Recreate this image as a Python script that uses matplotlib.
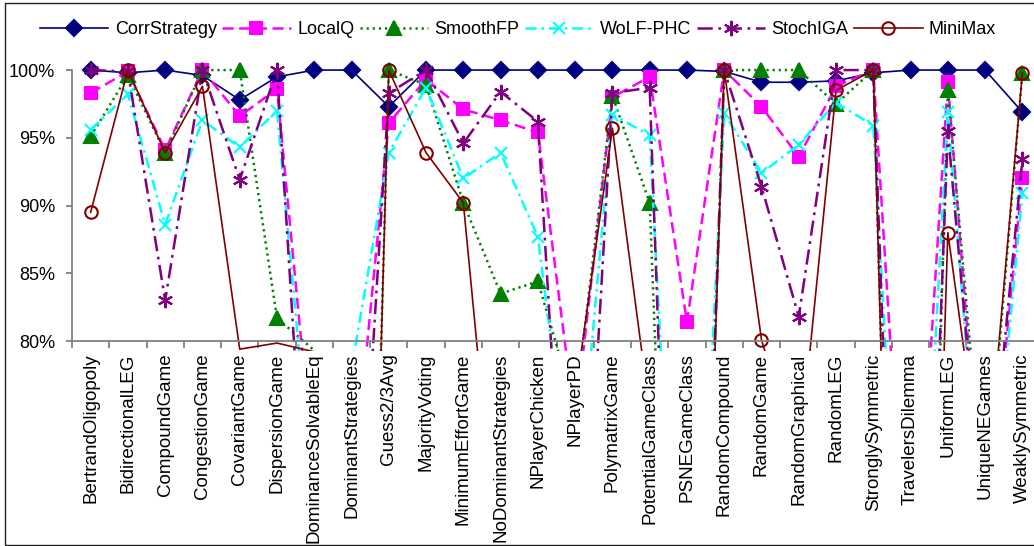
import matplotlib
matplotlib.use("Agg")
import matplotlib.pyplot as plt
from matplotlib.lines import Line2D
from matplotlib.patches import Rectangle
import numpy as np

plt.rcParams['font.family'] = ['Liberation Sans', 'DejaVu Sans']
plt.rcParams['lines.scale_dashes'] = False

categories = ["BertrandOligopoly", "BidirectionalLEG", "CompoundGame", "CongestionGame",
              "CovariantGame", "DispersionGame", "DominanceSolvableEq", "DominantStrategies",
              "Guess2/3Avg", "MajorityVoting", "MinimumEffortGame", "NoDominantStrategies",
              "NPlayerChicken", "NPlayerPD", "PolymatrixGame", "PotentialGameClass",
              "PSNEGameClass", "RandomCompound", "RandomGame", "RandomGraphical", "RandomLEG",
              "StronglySymmetric", "TravelersDilemma", "UniformLEG", "UniqueNEGames",
              "WeaklySymmetric"]

# percentages; points below 80% are estimated from line slopes
corr_strategy = [100, 99.8, 100, 99.6, 97.8, 99.5, 100, 100, 97.3, 100, 100, 100, 100,
                 100, 100, 100, 100, 99.9, 99.1, 99.1, 99.2, 99.8, 100, 100, 100, 96.9]
local_q = [98.3, 99.9, 94.1, 100, 96.6, 98.6, 70, 68, 96.1, 99.3, 97.1, 96.3, 95.4,
           74, 98.0, 99.5, 81.4, 100, 97.3, 93.6, 98.8, 100, 56, 99.1, 64, 92.0]
smooth_fp = [95.1, 99.6, 93.9, 100, 100, 81.7, 79.3, 2, 100, 98.9, 90.2, 83.5, 84.4,
             75, 98.1, 90.2, 20, 100, 100, 100, 97.5, 100, 3, 98.5, 67, 99.8]
wolf_phc = [95.6, 98.2, 88.6, 96.3, 94.3, 97.0, 67, 78, 93.9, 98.7, 92.0, 93.9, 87.7,
            66, 96.7, 95.2, 42, 96.8, 92.4, 94.5, 97.6, 95.9, 46, 96.9, 62, 90.9]
stoch_iga = [100, 99.9, 83.0, 100, 91.9, 100, 56, 54, 98.3, 100, 94.6, 98.4, 96.2,
             50, 98.3, 98.7, 20, 100, 91.4, 81.8, 100, 100, 23, 95.5, 65, 93.4]
minimax = [89.5, 100, 93.9, 98.8, 79.4, 79.85, 79.2, 0, 100, 93.9, 90.2, 61.5, 55,
           76, 95.7, 74.8, 16, 100, 80.1, 71, 98.5, 100, 0, 88.0, 68, 99.8]

yticks = [80, 85, 90, 95, 100]

fig = plt.figure(figsize=(10.34, 5.46), dpi=100)
ax = fig.add_axes([72 / 1034, 1 - 350.5 / 546, 969 / 1034, 290.6 / 546])

x = np.arange(len(categories))
styles = [
    ("CorrStrategy", corr_strategy, "#000080", "-", "D", 8.5, "#000080", 1.2),
    ("LocalQ", local_q, "#FF00FF", (0, (8, 4)), "s", 8.5, "#FF00FF", 1.8),
    ("SmoothFP", smooth_fp, "#008000", (0, (1.6, 2.8)), "^", 9.5, "#008000", 1.8),
    ("WoLF-PHC", wolf_phc, "#00FFFF", (0, (8, 3.5, 1.8, 3.5)), "x", 9, "#00FFFF", 1.8),
    ("StochIGA", stoch_iga, "#800080", (0, (11, 4, 2, 4)), (6, 2, 0), 11, "#800080", 1.8),
    ("MiniMax", minimax, "#800000", "-", "o", 9, "none", 1.2),
]
handles = []
for name, vals, color, ls, marker, ms, mfc, lw in styles:
    vals = np.array(vals, dtype=float)
    mk = dict(marker=marker, markersize=ms, markerfacecolor=mfc,
              markeredgecolor=color, markeredgewidth=1.5)
    ax.plot(x, vals, color=color, linestyle=ls, linewidth=lw)
    # markers only where the point sits inside the value axis (like Excel)
    shown = np.ma.masked_less(vals, 79.95)
    ax.plot(x, shown, linestyle="none", **mk)
    handles.append(Line2D([], [], color=color, linestyle=ls, linewidth=lw,
                          label=name, **mk))

ax.set_xlim(-0.5, len(categories) - 0.5)
ax.set_ylim(79.3, 100.75)

for side in ("top", "right"):
    ax.spines[side].set_visible(False)
ax.spines["bottom"].set_position(("data", 80))
ax.spines["left"].set_bounds(80, 100)
for side in ("bottom", "left"):
    ax.spines[side].set_color("#808080")
    ax.spines[side].set_linewidth(1.3)

ax.set_yticks(yticks)
ax.set_yticklabels([f"{v}%" for v in yticks])
ax.tick_params(axis="y", direction="out", length=4, width=1.3, color="#808080",
               pad=8, labelsize=13)

ax.set_xticks(x)
ax.set_xticklabels(categories, rotation=90, va="top", ha="center")
ax.set_xticks(np.arange(-0.5, len(categories), 1), minor=True)
ax.tick_params(axis="x", which="major", length=0, pad=9, labelsize=13.5)
ax.tick_params(axis="x", which="minor", direction="out", length=5, width=1.3,
               color="#808080")

ax.legend(handles=handles, loc="center", bbox_to_anchor=(0.501, 1 - 30 / 546),
          bbox_transform=fig.transFigure, ncol=6, frameon=False, numpoints=1,
          handlelength=3.8, handletextpad=0.35, columnspacing=0.3, fontsize=13)

# chart area border
fig.patches.append(Rectangle((5 / 1034, 1.5 / 546), 1.2, 542 / 546, transform=fig.transFigure,
                             fill=False, edgecolor="#202020", linewidth=1))

fig.savefig("out.png", dpi=100)
